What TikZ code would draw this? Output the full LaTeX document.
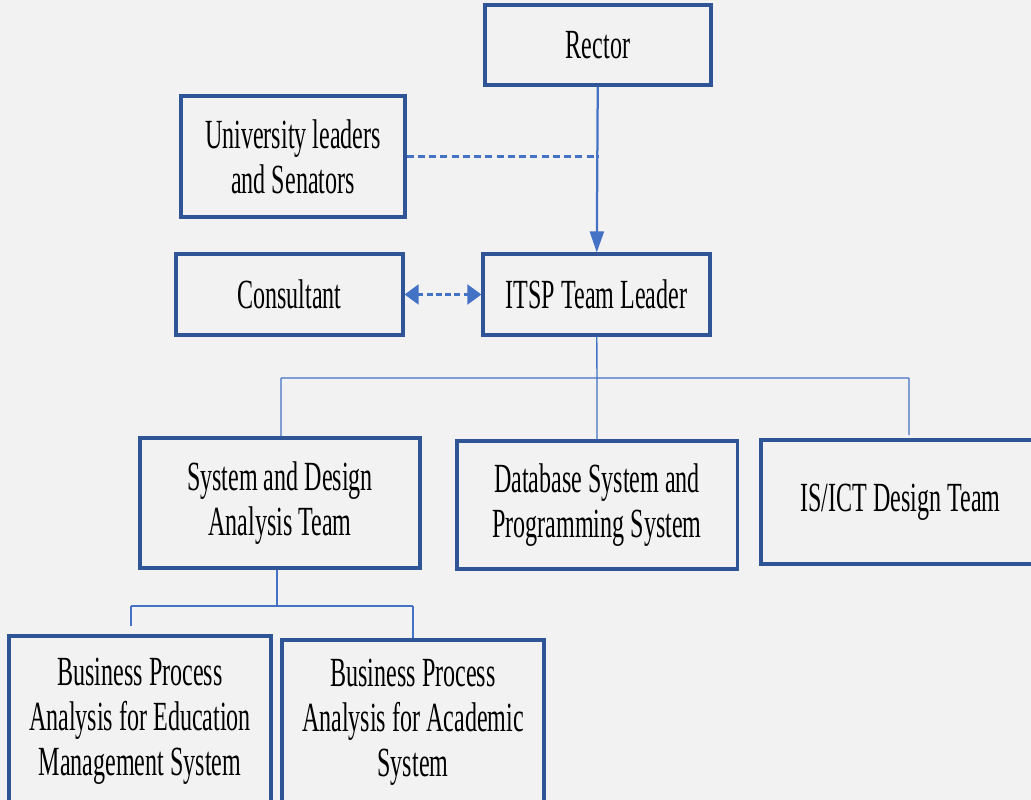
\documentclass[tikz,border=0pt]{standalone}
\usepackage{fontspec}
\setmainfont{Liberation Serif}[FakeStretch=0.58]
\usetikzlibrary{arrows.meta}
\definecolor{boxblue}{HTML}{2F5597}
\definecolor{lineblue}{HTML}{4472C4}
\definecolor{pagegrey}{HTML}{F2F2F2}

\begin{document}
\begin{tikzpicture}[x=0.025cm, y=0.025cm]
\tikzstyle{every node}=[draw=boxblue, line width=2.2pt, fill=pagegrey, align=center, inner sep=0pt, font=\fontsize{29.5}{32}\selectfont];
\tikzstyle{bus}=[draw=lineblue, line width=1pt];
\fill[pagegrey] (0,0) rectangle (1031,-800);
\useasboundingbox (0,0) rectangle (1031,-800);
% boxes
\node[minimum width=5.65cm, minimum height=2cm] (rector) at (598,-45) {Rector};
\node[minimum width=5.6cm, minimum height=3.025cm] (senate) at (293,-156.5) {University leaders\\and Senators};
\node[minimum width=5.675cm, minimum height=2.025cm] (consult) at (289.5,-294.5) {Consultant};
\node[minimum width=5.675cm, minimum height=2.025cm] (leader) at (596.5,-294.5) {ITSP Team Leader};
\node[minimum width=7cm, minimum height=3.25cm] (design) at (280,-503) {System and Design\\Analysis Team};
\node[minimum width=7cm, minimum height=3.2cm] (database) at (597,-505) {Database System and\\Programming System};
\node[minimum width=6.975cm, minimum height=3.1cm] (isict) at (900.5,-502) {IS/ICT Design Team};
\node[minimum width=6.55cm, minimum height=4.25cm] (edu) at (140,-721) {Business Process\\Analysis for Education\\Management System};
\node[minimum width=6.55cm, minimum height=4.1cm] (acad) at (413,-722) {Business Process\\Analysis for Academic\\System};
% links
\draw[lineblue, line width=1.6pt, -{Triangle[width=10pt,length=15pt]}] (rector) -- (leader);
\draw[lineblue, line width=1.8pt, dash pattern=on 5pt off 3pt] (senate.east) -- (senate.east -| rector.south);
\draw[lineblue, line width=2.2pt, dash pattern=on 4pt off 2.5pt, {Triangle[width=14pt,length=10pt]}-{Triangle[width=14pt,length=10pt]}] (consult) -- (leader);
% first level bus
\coordinate (j1) at (597,-378);
\coordinate (b1l) at (281,-378);
\coordinate (b1r) at (909,-378);
\coordinate (d3) at (909,-435);
\draw[bus] (leader) -- (j1)
(b1l) -- (b1r)
(b1l) -- (b1l |- design.north)
(j1) -- (database)
(b1r) -- (d3);
% second level bus
\coordinate (j2) at (277,-606);
\coordinate (b2l) at (131,-606);
\coordinate (b2r) at (413,-606);
\coordinate (d4) at (131,-626);
\draw[bus] (j2 |- design.south) -- (j2)
(b2l) -- (b2r)
(b2l) -- (d4)
(b2r) -- (acad);
\end{tikzpicture}
\end{document}
